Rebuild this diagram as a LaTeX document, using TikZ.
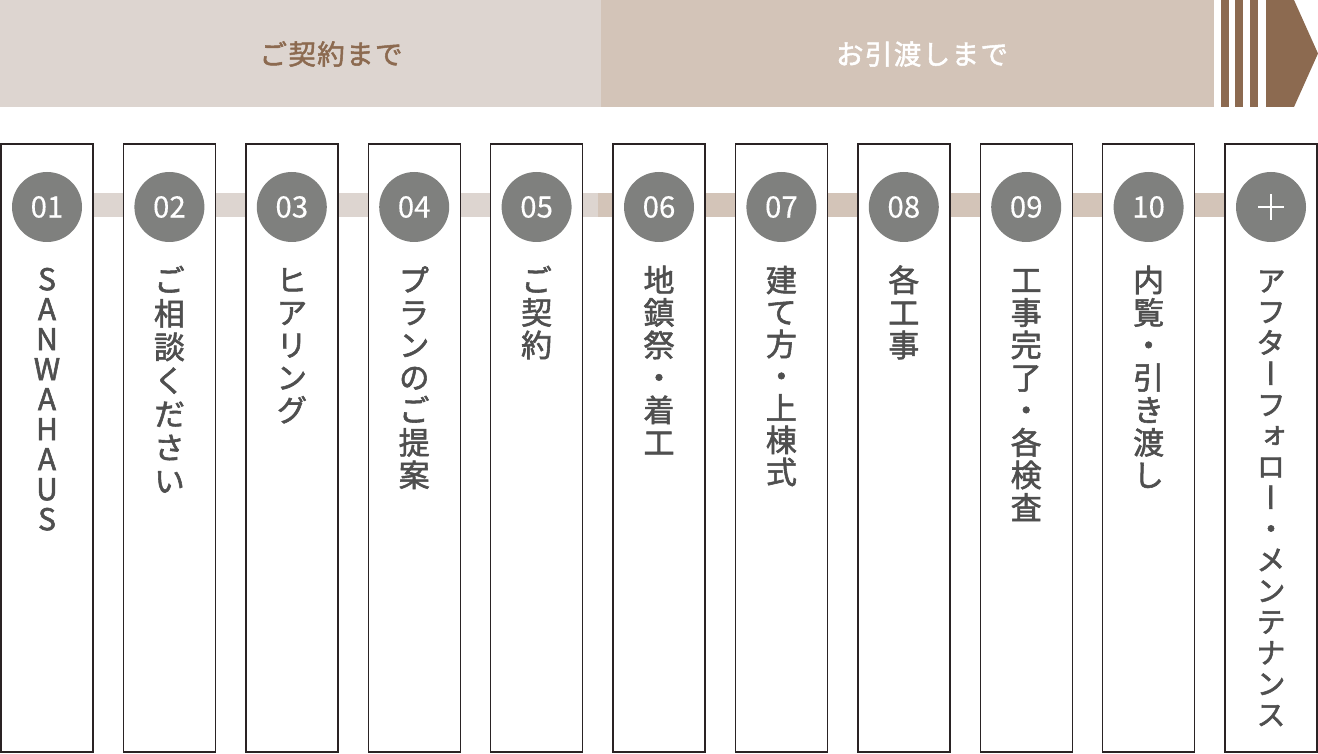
\documentclass[tikz,border=0pt]{standalone}
\usepackage{fontspec}
\usetikzlibrary{calc}
\newfontfamily\jp[FakeBold=1.8]{Noto Sans CJK JP}
\newfontfamily\jpn[FakeBold=0.3]{Noto Sans CJK JP}
\newfontfamily\jpv[RawFeature=+vert,FakeBold=1.8]{Noto Sans CJK JP}
\definecolor{barL}{HTML}{DDD5D0}
\definecolor{barR}{HTML}{D3C4B8}
\definecolor{brown}{HTML}{8C6A50}
\definecolor{circ}{HTML}{7F807E}
\definecolor{boxline}{HTML}{2A2324}
\definecolor{txt}{HTML}{4F4F4F}
\def\vth{27pt}\def\vtd{5.5pt}
\newcommand\vtloop[1]{\ifx#1\relax\else\hbox to 60pt{\hss\vrule height\vth depth\vtd width 0pt #1\hss}\expandafter\vtloop\fi}
\newcommand\vcol[3]{\def\vth{#1}\def\vtd{#2}\vbox{\offinterlineskip\vtloop#3\relax}}
\tikzset{
  stepbox/.style={draw=boxline, line width=1.4pt, fill=white, minimum width=92pt, minimum height=608pt, inner sep=0pt},
  numcirc/.style={circle, fill=circ, minimum size=70pt, inner sep=0pt, text=white, font=\jpn\fontsize{29.5}{29.5}\selectfont},
  coltext/.style={anchor=north, inner sep=0pt, text=txt, font=\jpv\fontsize{31}{32.5}\selectfont},
  headtext/.style={inner sep=0pt, font=\jp\fontsize{27.5}{27.5}\selectfont\addfontfeature{LetterSpace=5}},
}
\begin{document}
\begin{tikzpicture}[x=1pt,y=-1pt]
\useasboundingbox (0,0) rectangle (1318,754);
% top bar
\fill[barL] (0,0) rectangle (601,107);
\fill[barR] (601,0) rectangle (1214,107);
\fill[brown] (1220.7,0) rectangle (1229,107);
\fill[brown] (1235.3,0) rectangle (1243.3,107);
\fill[brown] (1250,0) rectangle (1258.3,107);
\fill[brown] (1266,0) -- (1294,0) -- (1318,53.5) -- (1294,107) -- (1266,107) -- cycle;
\node[headtext, text=brown] (h1) at (331,54) {ご契約まで};
\node[headtext, text=white] (h2) at (922,54) {お引渡しまで};
% band (behind boxes)
\coordinate (bandL) at (93,205);
\coordinate (bandM) at (598,205);
\coordinate (bandR) at (1226,205);
\fill[barL] ($(bandL)+(0,-12)$) rectangle ($(bandM)+(0,12)$);
\fill[barR] ($(bandM)+(0,-12)$) rectangle ($(bandR)+(0,12)$);
% boxes and circles
\foreach \i/\lab in {1/01,2/02,3/03,4/04,5/05,6/06,7/07,8/08,9/09,10/10,11/{}}{
  \pgfmathsetmacro\cx{47+122.4*(\i-1)}
  \node[stepbox] (b\i) at (\cx,448) {};
  \node[numcirc] (c\i) at (\cx,207) {\lab};
}
\draw[white, line width=1.8pt] ($(c11.center)+(-13,0)$) -- ($(c11.center)+(13,0)$);
\draw[white, line width=1.8pt] ($(c11.center)+(0,-13)$) -- ($(c11.center)+(0,13)$);
% column texts
\node[coltext, font=\jpv\fontsize{30}{30}\selectfont] (t1) at (c1.center |- 0,267.5) {\vcol{22.5pt}{7.5pt}{SANWAHAUS}};
\node[coltext] (t2) at (c2.center |- 0,264.5) {\vcol{27pt}{6.5pt}{ご相談ください}};
\node[coltext] (t3) at (c3.center |- 0,264.5) {\vcol{27pt}{5.5pt}{ヒアリング}};
\node[coltext] (t4) at (c4.center |- 0,264.5) {\vcol{27pt}{5.5pt}{プランのご提案}};
\node[coltext] (t5) at (c5.center |- 0,264.5) {\vcol{27pt}{5.5pt}{ご契約}};
\node[coltext] (t6) at (c6.center |- 0,264.5) {\vcol{27pt}{5.5pt}{地鎮祭・着工}};
\node[coltext] (t7) at (c7.center |- 0,264.5) {\vcol{27pt}{5pt}{建て方・上棟式}};
\node[coltext] (t8) at (c8.center |- 0,264.5) {\vcol{27pt}{5.5pt}{各工事}};
\node[coltext] (t9) at (c9.center |- 0,264.5) {\vcol{27pt}{5.5pt}{工事完了・各検査}};
\node[coltext] (t10) at (c10.center |- 0,264.5) {\vcol{27pt}{5.5pt}{内覧・引き渡し}};
\node[coltext, font=\jpv\fontsize{29.5}{31}\selectfont] (t11) at (c11.center |- 0,266) {\vcol{25.5pt}{5.5pt}{アフターフォロー・メンテナンス}};
\end{tikzpicture}
\end{document}
